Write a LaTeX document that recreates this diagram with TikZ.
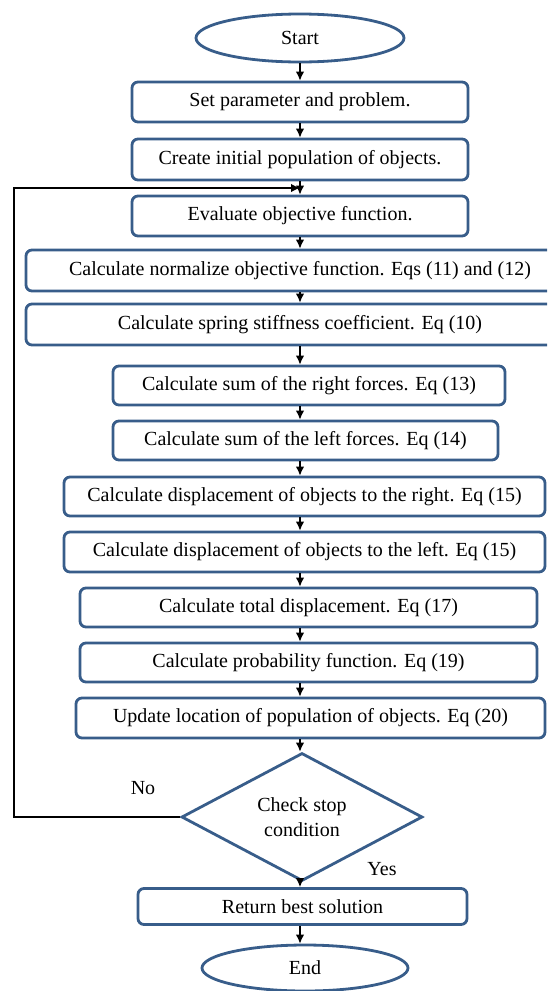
\documentclass[tikz,border=0pt]{standalone}
\usepackage{fontspec}
\setmainfont{Liberation Serif}
\usepackage{xcolor}
\usepackage{tikz}
\usetikzlibrary{arrows.meta, shapes.geometric, calc, positioning}
\definecolor{boxblue}{RGB}{56,93,138}

\begin{document}
\begin{tikzpicture}[
	x=1pt, y=1pt,
	every node/.style = {font=\fontsize{20}{24.5}\selectfont, align=center},
	stepbox/.style = {shape=rectangle, rounded corners=6pt, draw=boxblue,
	line width=2.8pt, fill=white, inner sep=0pt, minimum height=40pt},
	terminal/.style = {shape=ellipse, draw=boxblue, line width=2.8pt,
	fill=white, inner sep=0pt},
	decision/.style = {shape=diamond, draw=boxblue, line width=2.8pt,
	fill=white, inner sep=0pt},
	link/.style = {-{Latex[length=9pt,width=8.5pt]}, draw, line width=1.4pt}
]
\useasboundingbox (0,0) rectangle (547,-991);
\clip (0,0) rectangle (547,-991);

% main column
\node[terminal, minimum width=208pt, minimum height=48pt] (start) at (300,-38) {Start};
\node[stepbox, minimum width=336pt] (set) at (300,-102) {Set parameter and problem.};
\node[stepbox, minimum width=336pt, minimum height=41pt] (create) at (300,-159.5) {Create initial population of objects.};
\node[stepbox, minimum width=336pt] (eval) at (300,-216) {Evaluate objective function.};
\node[stepbox, minimum width=548pt, minimum height=41pt] (norm) at (300,-270.5) {Calculate normalize objective function. Eqs (11) and (12)};
\node[stepbox, minimum width=548pt, minimum height=41pt] (spring) at (300,-324.5) {Calculate spring stiffness coefficient. Eq (10)};
\node[stepbox, minimum width=392pt, minimum height=39pt] (rightf) at (309,-385.5) {Calculate sum of the right forces. Eq (13)};
\node[stepbox, minimum width=385pt, minimum height=39pt] (leftf) at (305.5,-440.5) {Calculate sum of the left forces. Eq (14)};
\node[stepbox, minimum width=481pt, minimum height=39pt] (dispr) at (304.5,-496.5) {Calculate displacement of objects to the right. Eq (15)};
\node[stepbox, minimum width=481pt] (displ) at (304.5,-552) {Calculate displacement of objects to the left. Eq (15)};
\node[stepbox, minimum width=457pt, minimum height=39pt] (total) at (308.5,-607.5) {Calculate total displacement. Eq (17)};
\node[stepbox, minimum width=457pt, minimum height=39pt] (prob) at (308.5,-662.5) {Calculate probability function. Eq (19)};
\node[stepbox, minimum width=469pt] (update) at (310.5,-718) {Update location of population of objects. Eq (20)};
\node[decision, minimum width=241pt, minimum height=120pt] (check) at (302,-817) {Check stop\\condition};
\node[stepbox, minimum width=329pt, minimum height=36pt] (ret) at (302.5,-906.5) {Return best solution};
\node[terminal, minimum width=206pt, minimum height=46pt] (end) at (305,-968) {End};

\node (no) at (143,-788) {No};
\node (yes) at (382,-869) {Yes};

\coordinate (axis) at (300,0);
\coordinate (edge) at (14,0);
\coordinate (back) at (300,-188);

\foreach \a/\b in {start/set, set/create, create/eval, eval/norm, norm/spring,
	spring/rightf, rightf/leftf, leftf/dispr, dispr/displ, displ/total,
	total/prob, prob/update, update/check, check/ret, ret/end}
	\draw[link] (axis |- \a.south) -- (axis |- \b.north);

% back to evaluation
\draw[link] (check.west) -- (check.west -| edge) |- (back);
\end{tikzpicture}
\end{document}
